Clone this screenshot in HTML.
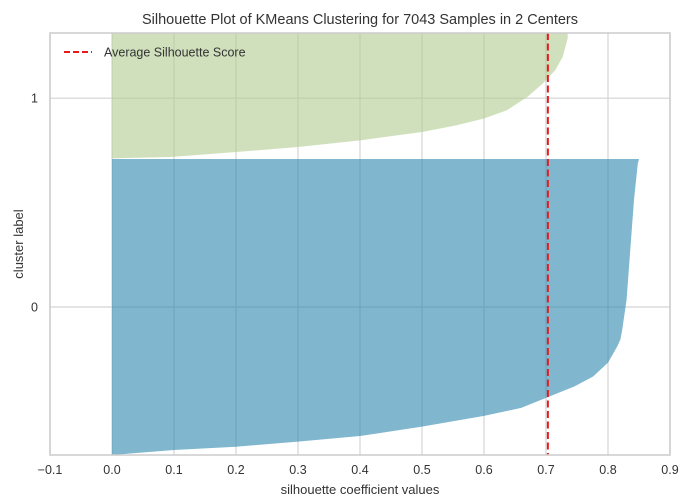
<!DOCTYPE html>
<html><head><meta charset="utf-8"><style>
body{margin:0;background:#fff;}
svg text{font-family:"Liberation Sans",Arial,sans-serif;fill:#333;}
</style></head><body>
<svg id="chart" width="681" height="499" viewBox="0 0 681 499" xmlns="http://www.w3.org/2000/svg">
<defs><clipPath id="plotclip"><rect x="50" y="33" width="620" height="422"/></clipPath></defs>
<text x="360" y="24" text-anchor="middle" font-size="14.5">Silhouette Plot of KMeans Clustering for 7043 Samples in 2 Centers</text>
<text x="360" y="494" text-anchor="middle" font-size="13">silhouette coefficient values</text>
<text transform="translate(23,244) rotate(-90)" text-anchor="middle" font-size="13">cluster label</text>
<g id="grid"></g><g id="fills" clip-path="url(#plotclip)"></g><g id="ticks"></g>
<rect x="50" y="33" width="620" height="422" fill="none" stroke="#cccccc" stroke-width="1.5"/>
<g>
<line x1="64" y1="52" x2="92" y2="52" stroke="#e8191c" stroke-width="2" stroke-dasharray="6,3"/>
<text x="104" y="56.5" font-size="12.5">Average Silhouette Score</text>
</g>
</svg>
<script>
const xTicks=[-0.1,0,0.1,0.2,0.3,0.4,0.5,0.6,0.7,0.8,0.9];
const clusterLabels=["0","1"];
const clusterSizes=[5007,2036];
const cluster0Frac=[0,0.017,0.028,0.045,0.064,0.096,0.132,0.159,0.193,0.232,0.265,0.312,0.367,0.39,0.424,0.525,0.695,0.864,0.983,1];
const cluster0Vals=[0,0.1,0.2,0.3,0.4,0.5,0.6,0.66,0.7,0.746,0.776,0.8,0.815,0.82,0.823,0.83,0.836,0.842,0.848,0.85];
const cluster1Frac=[0,0.011,0.053,0.094,0.15,0.219,0.275,0.331,0.4,0.511,0.623,0.733,0.844,1];
const cluster1Vals=[0,0.095,0.2,0.3,0.4,0.5,0.556,0.6,0.637,0.67,0.695,0.715,0.727,0.735];
const avgScore=0.703;
const colors=["#2b87af","#b1cb8f"];
const L=50,R=670,T=33,B=455,xmin=-0.1,xmax=0.9;
const X=v=>L+(v-xmin)/(xmax-xmin)*(R-L);
const yBottom=0,gap=10;
const total=clusterSizes.reduce((a,b)=>a+b,0)+gap;
const pxPer=(B-38)/total;
const Y=s=>B-(s-yBottom)*pxPer;
const NS="http://www.w3.org/2000/svg";
function mk(tag,attrs,parent){const e=document.createElementNS(NS,tag);for(const k in attrs)e.setAttribute(k,attrs[k]);parent.appendChild(e);return e;}
const grid=document.getElementById('grid'),fills=document.getElementById('fills'),ticks=document.getElementById('ticks');
xTicks.forEach(t=>{
  const gl=mk('line',{x1:X(t),x2:X(t),y1:T,y2:B,stroke:'#d4d4d4','stroke-width':1.2},grid);
  
  
  const tx=mk('text',{x:X(t),y:474,'text-anchor':'middle','font-size':12.5},ticks);
  tx.textContent=(t<0?'\u2212':'')+Math.abs(t).toFixed(1);
  
  
});
const fracs=[cluster0Frac,cluster1Frac],vals=[cluster0Vals,cluster1Vals];
let lower=yBottom;
clusterSizes.forEach((n,i)=>{
  const upper=lower+n, mid=(lower+upper)/2;
  const gl=mk('line',{x1:L,x2:R,y1:Y(mid),y2:Y(mid),stroke:'#d4d4d4','stroke-width':1.2},grid);
  
  
  const tx=mk('text',{x:38,y:Y(mid)+4.5,'text-anchor':'end','font-size':12.5},ticks);
  tx.textContent=clusterLabels[i];
  
  
  let d='M'+X(0)+','+Y(lower);
  fracs[i].forEach((f,j)=>{d+=' L'+X(vals[i][j])+','+Y(lower+f*n);});
  const last=vals[i][vals[i].length-1];
  const topY=(i===clusterSizes.length-1)?Y(upper)-12:Y(upper);
  d+=' L'+X(last)+','+topY+' L'+X(0)+','+topY+' Z';
  const p=mk('path',{d:d,fill:colors[i],'fill-opacity':0.6},fills);
  
  
  lower=upper+gap;
});
const av=mk('line',{x1:X(avgScore),x2:X(avgScore),y1:T,y2:B,stroke:'#e8191c','stroke-width':2,'stroke-dasharray':'7,3.5'},fills);


</script>
</body></html>
